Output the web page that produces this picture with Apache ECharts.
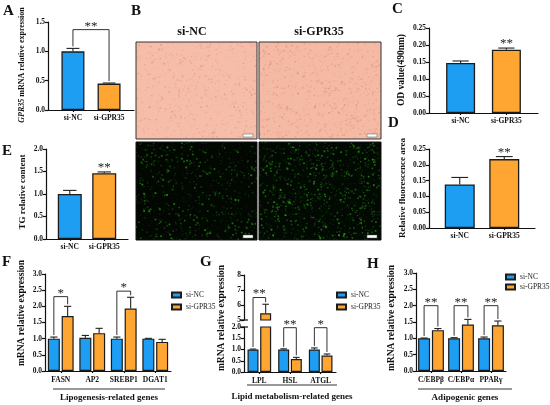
<!DOCTYPE html>
<html>
<head>
<meta charset="utf-8">
<script src="https://cdn.jsdelivr.net/npm/echarts@6/dist/echarts.min.js"></script>
<style>
  html, body { margin: 0; padding: 0; background: #fff; }
  #c { width: 550px; height: 405px; }
</style>
</head>
<body>
<div id="c"></div>
<script>
// ---- data ----
const groups = ['si-NC', 'si-GPR35'];
// A: GPR35 mRNA
const gprMrna = [1.0, 0.45];
const gprMrnaErr = [1.05, 0.46];
// C: OD value
const odValue = [0.147, 0.186];
const odValueErr = [0.153, 0.191];
// D: fluorescence area
const fluoArea = [0.138, 0.218];
const fluoAreaErr = [0.160, 0.226];
// E: TG content
const tgContent = [1.0, 1.46];
const tgContentErr = [1.08, 1.49];
// F: lipogenesis genes
const lipoGenes = ['FASN', 'AP2', 'SREBP1', 'DGAT1'];
const lipoNC = [1.0, 1.03, 1.0, 1.0];
const lipoNCErr = [1.05, 1.10, 1.05, 1.01];
const lipoGPR = [1.70, 1.17, 1.93, 0.90];
const lipoGPRErr = [2.00, 1.32, 2.28, 0.98];
// G: lipid metabolism genes
const metaGenes = ['LPL', 'HSL', 'ATGL'];
const metaNC = [1.0, 1.0, 1.0];
const metaNCErr = [1.02, 1.03, 1.07];
const metaGPR = [5.45, 0.58, 0.73];
const metaGPRErr = [6.05, 0.65, 0.80];
// H: adipogenic genes
const adipoGenes = ['C/EBPβ', 'C/EBPα', 'PPARγ'];
const adipoNC = [1.0, 1.0, 1.0];
const adipoNCErr = [1.01, 1.02, 1.04];
const adipoGPR = [1.25, 1.42, 1.40];
const adipoGPRErr = [1.30, 1.58, 1.53];
// significance marks: [category, bracket height, label]
const sigMrna = [[0, 1.37, '**']];
const sigLipo = [[0, 2.30, '*'], [2, 2.47, '*']];
const sigMeta = [[0, 6.5, '**'], [1, 1.97, '**'], [2, 1.97, '*']];
const sigAdipo = [[0, 2.0, '**'], [1, 2.0, '**'], [2, 2.0, '**']];

// ---- styles ----
const SERIF = '"Liberation Serif", "DejaVu Serif", serif';
const BLUE = '#1d9ef2';
const ORANGE = '#ffa632';
const EDGE = '#1c1c1c';
const LINE = { color: '#111', width: 1.2 };
const LAB = { fontFamily: SERIF, fontWeight: 'bold', fontSize: 7.5, color: '#111' };
const pos2 = [0.29, 0.71]; // bar centres on the two-group panels

const chart = echarts.init(document.getElementById('c'));

const grids = [
  { left: 48, top: 22, width: 86, height: 88 },    // 0 A
  { left: 429, top: 28, width: 109, height: 85 },  // 1 C
  { left: 429, top: 149, width: 106, height: 79 }, // 2 D
  { left: 46, top: 149, width: 82, height: 90 },   // 3 E
  { left: 45, top: 274, width: 126, height: 97 },  // 4 F
  { left: 244, top: 275, width: 92, height: 45 },  // 5 G upper
  { left: 244, top: 327, width: 92, height: 45 },  // 6 G lower
  { left: 416, top: 273, width: 90, height: 98 }   // 7 H
].map(g => Object.assign({ outerBoundsMode: 'none', containLabel: false }, g));

function yAx(i, min, max, interval, dec) {
  return {
    type: 'value', gridIndex: i, min, max, interval,
    splitLine: { show: false },
    axisLine: { show: true, lineStyle: LINE },
    axisTick: { show: true, length: 3, lineStyle: LINE },
    axisLabel: Object.assign({ margin: 3, formatter: v => v.toFixed(dec) }, LAB)
  };
}
function xVal(i) {
  return {
    type: 'value', gridIndex: i, min: 0, max: 1,
    splitLine: { show: false },
    axisLine: { show: true, onZero: false, lineStyle: LINE },
    axisTick: { show: true, length: 2, customValues: pos2, lineStyle: LINE },
    axisLabel: Object.assign({}, LAB, {
      margin: 4, customValues: pos2,
      formatter: v => groups[pos2.findIndex(p => Math.abs(p - v) < 1e-6)] || ''
    })
  };
}
function xCat(i, cats, show) {
  return {
    type: 'category', gridIndex: i, data: cats, show,
    axisLine: { show: true, onZero: false, lineStyle: LINE },
    axisTick: { show: true, length: 2, alignWithLabel: true, lineStyle: LINE },
    axisLabel: Object.assign({}, LAB, { margin: 5, interval: 0 })
  };
}

function errRender(off) {
  return function (params, api) {
    const x = api.value(0);
    const a = api.coord([x, api.value(1)]);
    const b = api.coord([x, api.value(2)]);
    const cx = a[0] + api.value(3) * off;
    const w = api.value(4);
    const st = { stroke: '#222', lineWidth: 1.1 };
    return {
      type: 'group', children: [
        { type: 'line', shape: { x1: cx, y1: a[1], x2: cx, y2: b[1] }, style: st },
        { type: 'line', shape: { x1: cx - w, y1: b[1], x2: cx + w, y2: b[1] }, style: st }
      ]
    };
  };
}
function errSeries(i, items, off) {
  return { type: 'custom', xAxisIndex: i, yAxisIndex: i, renderItem: errRender(off || 0), data: items, z: 5, silent: true };
}

// two-group panels (A, C, D, E)
function pairPanel(i, vals, errs, bw) {
  return [
    {
      type: 'bar', xAxisIndex: i, yAxisIndex: i, barWidth: bw,
      itemStyle: { borderColor: EDGE, borderWidth: 1.3 },
      data: vals.map((v, k) => ({ value: [pos2[k], v], itemStyle: { color: k ? ORANGE : BLUE } }))
    },
    errSeries(i, vals.map((v, k) => [pos2[k], v, errs[k], 0, bw * 0.28]))
  ];
}

// grouped panels (F, G, H)
function groupBars(i, nc, gpr, bw) {
  const st = { borderColor: EDGE, borderWidth: 1.2 };
  return [
    { name: 'si-NC', type: 'bar', xAxisIndex: i, yAxisIndex: i, data: nc, barWidth: bw, barGap: '15%', itemStyle: Object.assign({ color: BLUE }, st) },
    { name: 'si-GPR35', type: 'bar', xAxisIndex: i, yAxisIndex: i, data: gpr, barWidth: bw, barGap: '15%', itemStyle: Object.assign({ color: ORANGE }, st) }
  ];
}
function groupErr(i, nc, ncE, gpr, gprE, bw, keep) {
  const items = [];
  nc.forEach((v, k) => { if (keep(v, ncE[k])) items.push([k, v, ncE[k], -1, bw * 0.3]); });
  gpr.forEach((v, k) => { if (keep(v, gprE[k])) items.push([k, v, gprE[k], 1, bw * 0.3]); });
  return errSeries(i, items, bw * 1.15 / 2);
}

const legendBase = {
  orient: 'vertical', icon: 'rect', itemWidth: 9, itemHeight: 5, itemGap: 3, selectedMode: false,
  data: groups, textStyle: { fontFamily: SERIF, fontSize: 7.5, color: '#222' }
};

const option = {
  animation: false,
  backgroundColor: '#fff',
  grid: grids,
  legend: [
    Object.assign({}, legendBase, { left: 166, top: 286, itemGap: 4 }),
    Object.assign({}, legendBase, { left: 331, top: 286, itemGap: 4 }),
    Object.assign({}, legendBase, { left: 500, top: 268, itemGap: 2 })
  ],
  xAxis: [
    xVal(0), xVal(1), xVal(2), xVal(3),
    xCat(4, lipoGenes, true),
    xCat(5, metaGenes, false),
    xCat(6, metaGenes, true),
    xCat(7, adipoGenes, true)
  ],
  yAxis: [
    yAx(0, 0, 1.5, 0.5, 1),
    yAx(1, 0, 0.25, 0.05, 2),
    yAx(2, 0, 0.25, 0.05, 2),
    yAx(3, 0, 2, 0.5, 1),
    yAx(4, 0, 3, 0.5, 1),
    yAx(5, 5, 8, 1, 0),
    yAx(6, 0, 2, 0.5, 1),
    yAx(7, 0, 3, 0.5, 1)
  ],
  series: [].concat(
    pairPanel(0, gprMrna, gprMrnaErr, 23),
    pairPanel(1, odValue, odValueErr, 29),
    pairPanel(2, fluoArea, fluoAreaErr, 30),
    pairPanel(3, tgContent, tgContentErr, 24),
    groupBars(4, lipoNC, lipoGPR, 12),
    groupErr(4, lipoNC, lipoNCErr, lipoGPR, lipoGPRErr, 12, () => true),
    groupBars(5, metaNC, metaGPR, 11),
    groupErr(5, metaNC, metaNCErr, metaGPR, metaGPRErr, 11, v => v >= 5),
    groupBars(6, metaNC, metaGPR, 11),
    groupErr(6, metaNC, metaNCErr, metaGPR, metaGPRErr, 11, (v, e) => e <= 2),
    groupBars(7, adipoNC, adipoGPR, 12),
    groupErr(7, adipoNC, adipoNCErr, adipoGPR, adipoGPRErr, 12, () => true)
  )
};
chart.setOption(option);

// ---- annotations: panel letters, titles, images, brackets ----
const g = [];
function txt(x, y, text, size, extra) {
  g.push(Object.assign({
    type: 'text', x, y, z: 10, silent: true,
    style: Object.assign({
      text, fontFamily: SERIF, fontWeight: 'bold', fontSize: size, fill: '#111',
      textAlign: 'left', align: 'left', textVerticalAlign: 'top', verticalAlign: 'top'
    }, extra && extra.style)
  }, extra && extra.el));
}
function vtxt(x, y, text, size, rich) {
  txt(x, y, text, size, {
    el: { rotation: Math.PI / 2 },
    style: { textAlign: 'center', align: 'center', textVerticalAlign: 'middle', verticalAlign: 'middle', rich }
  });
}
function ctxt(x, y, text, size) {
  txt(x, y, text, size, { style: { textAlign: 'center', align: 'center', textVerticalAlign: 'middle', verticalAlign: 'middle' } });
}

[['A', 3, 4], ['B', 131, 4], ['C', 392, 2], ['D', 388, 116], ['E', 2, 144], ['F', 2, 255], ['G', 200, 255], ['H', 367, 257]]
  .forEach(p => txt(p[1], p[2], p[0], 15));

ctxt(192, 32, 'si-NC', 12);
ctxt(319, 32, 'si-GPR35', 12);

// y-axis titles
vtxt(22, 65, '{i|GPR35} mRNA relative expression', 8,
  { i: { fontStyle: 'italic', fontWeight: 'bold', fontFamily: SERIF, fontSize: 8, fill: '#111' } });
vtxt(402, 70, 'OD value(490nm)', 9.5);
vtxt(403, 188, 'Relative fluorescence area', 9);
vtxt(23, 192, 'TG relative content', 9);
vtxt(22, 313, 'mRNA relative expression', 9.5);
vtxt(222, 318, 'mRNA relative expression', 9.5);
vtxt(392, 318, 'mRNA relative expression', 9.5);

// group labels with rule lines
function groupLabel(x1, x2, yl, yt, text) {
  g.push({ type: 'line', z: 10, silent: true, shape: { x1, y1: yl, x2, y2: yl }, style: { stroke: '#333', lineWidth: 1 } });
  ctxt((x1 + x2) / 2, yt, text, 9);
}
groupLabel(53, 165, 389, 398, 'Lipogenesis-related genes');
groupLabel(247, 337, 385, 397, 'Lipid metabolism-related genes');
groupLabel(418, 512, 389, 398, 'Adipogenic genes');

// break marks on the G value axis
[320, 327].forEach(y => g.push({ type: 'line', z: 10, silent: true, shape: { x1: 240, y1: y, x2: 248, y2: y }, style: { stroke: '#111', lineWidth: 1.2 } }));

// micrograph-like tiles
function micro(w, h, bg, seed, n, paint) {
  const c = document.createElement('canvas');
  c.width = w * 2; c.height = h * 2;
  const ctx = c.getContext('2d');
  ctx.fillStyle = bg; ctx.fillRect(0, 0, c.width, c.height);
  let s = seed;
  const r = () => (s = (s * 16807) % 2147483647) / 2147483647;
  for (let k = 0; k < n; k++) paint(ctx, r() * c.width, r() * c.height, r(), r());
  return c.toDataURL();
}
const pinkDot = (ctx, x, y, a, b) => {
  ctx.fillStyle = 'rgba(215,110,100,' + (0.08 + 0.3 * a) + ')';
  ctx.beginPath(); ctx.arc(x, y, 0.6 + 1.4 * b, 0, Math.PI * 2); ctx.fill();
};
const greenDot = (ctx, x, y, a, b) => {
  ctx.fillStyle = 'rgba(' + Math.round(20 + 40 * a) + ',' + Math.round(90 + 110 * a) + ',30,' + (0.15 + 0.55 * b * a) + ')';
  ctx.beginPath(); ctx.arc(x, y, 0.6 + 1.6 * b, 0, Math.PI * 2); ctx.fill();
};
function tile(x, y, w, h, img, border, scaleY) {
  g.push({ type: 'image', z: 5, silent: true, style: { image: img, x, y, width: w, height: h } });
  g.push({ type: 'rect', z: 6, silent: true, shape: { x, y, width: w, height: h }, style: { fill: null, stroke: border, lineWidth: 1 } });
  g.push({ type: 'rect', z: 6, silent: true, shape: { x: x + w - 14, y: scaleY, width: 10, height: 3 }, style: { fill: '#fff', stroke: '#555', lineWidth: 0.5 } });
}
tile(136, 42, 121, 97, micro(121, 97, '#f6bea9', 11, 700, pinkDot), '#333', 134);
tile(259, 42, 122, 97, micro(122, 97, '#f5baa4', 23, 900, pinkDot), '#333', 134);
tile(136, 142, 121, 98, micro(121, 98, '#020702', 37, 900, greenDot), '#111', 235);
tile(259, 142, 122, 98, micro(122, 98, '#020802', 53, 1400, greenDot), '#111', 235);

// brackets and stars, placed through the chart's own scales
function px(grid, x, y) { return chart.convertToPixel({ gridIndex: grid }, [x, y]); }
function bracket(L, R, topGrid, topVal, text) {
  const pl = px(L.grid, L.x, L.y);
  const pr = px(R.grid, R.x, R.y);
  const yt = px(topGrid, L.x, topVal)[1];
  const xl = pl[0] + (L.off || 0);
  const xr = pr[0] + (R.off || 0);
  g.push({
    type: 'polyline', z: 8, silent: true,
    shape: { points: [[xl, pl[1] - 2], [xl, yt], [xr, yt], [xr, pr[1] - 2]] },
    style: { stroke: '#333', lineWidth: 1, fill: null }
  });
  star((xl + xr) / 2, yt - 3.5, text);
}
function star(x, y, text) {
  g.push({
    type: 'text', x, y, z: 9, silent: true,
    style: { text, fontFamily: SERIF, fontSize: 13, fill: '#222', textAlign: 'center', align: 'center', textVerticalAlign: 'middle', verticalAlign: 'middle' }
  });
}

sigMrna.forEach(s => bracket({ grid: 0, x: pos2[0], y: gprMrnaErr[0] }, { grid: 0, x: pos2[1], y: gprMrnaErr[1] }, 0, s[1], s[2]));
[[1, odValueErr], [2, fluoAreaErr], [3, tgContentErr]].forEach(p => {
  const q = px(p[0], pos2[1], p[1][1]);
  star(q[0], q[1] - 4.5, '**');
});
sigLipo.forEach(s => bracket(
  { grid: 4, x: s[0], y: lipoNCErr[s[0]], off: -6.9 },
  { grid: 4, x: s[0], y: lipoGPRErr[s[0]], off: 6.9 }, 4, s[1], s[2]));
sigMeta.forEach(s => bracket(
  { grid: metaNCErr[s[0]] > 2 ? 5 : 6, x: s[0], y: metaNCErr[s[0]], off: -6.3 },
  { grid: metaGPRErr[s[0]] > 2 ? 5 : 6, x: s[0], y: metaGPRErr[s[0]], off: 6.3 },
  s[1] > 2 ? 5 : 6, s[1], s[2]));
sigAdipo.forEach(s => bracket(
  { grid: 7, x: s[0], y: adipoNCErr[s[0]], off: -6.9 },
  { grid: 7, x: s[0], y: adipoGPRErr[s[0]], off: 6.9 }, 7, s[1], s[2]));

chart.setOption({ graphic: { elements: g } });
</script>
</body>
</html>
